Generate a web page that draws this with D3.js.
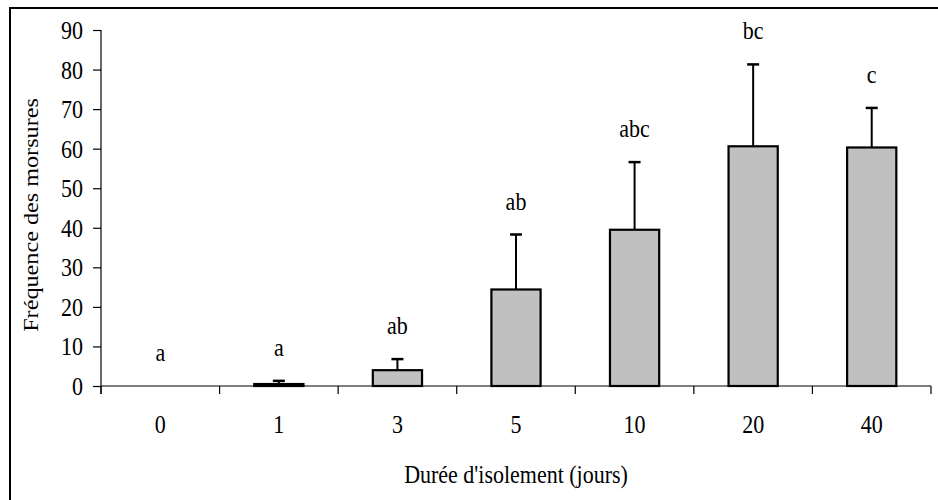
<!DOCTYPE html>
<html>
<head>
<meta charset="utf-8">
<script src="https://cdn.jsdelivr.net/npm/d3@7"></script>
<style>
  html, body { margin: 0; padding: 0; background: #fff; }
  svg { display: block; font-family: "Liberation Serif", "Times New Roman", serif; }
</style>
</head>
<body>
<svg id="chart" width="938" height="500"></svg>
<script>
// Isolation duration (days), mean bite frequency, standard error, significance letters
const durations = ["0", "1", "3", "5", "10", "20", "40"];
const means = [0, 0.5, 4, 24.4, 39.5, 60.6, 60.3];
const errors = [0, 0.8, 2.8, 13.9, 17.1, 20.7, 10.0];
const letters = ["a", "a", "ab", "ab", "abc", "bc", "c"];
const yTicks = [0, 10, 20, 30, 40, 50, 60, 70, 80, 90];

const svg = d3.select("#chart");
const margin = { left: 101, right: 7, top: 30, bottom: 114 };
const W = 938, H = 500;
const x0 = margin.left, x1 = W - margin.right;
const yBottom = H - margin.bottom, yTop = margin.top;
const FS = 22;       // text size
const STRETCH = 1.1; // slightly tall glyphs

// outer frame
svg.append("rect")
  .attr("x", 10).attr("y", 8)
  .attr("width", W + 20).attr("height", H + 20)
  .attr("fill", "none").attr("stroke", "#000").attr("stroke-width", 2);

const x = d3.scaleBand().domain(durations).range([x0, x1]).paddingInner(0).paddingOuter(0);
const y = d3.scaleLinear().domain([0, 90]).range([yBottom, yTop]);

const barW = x.bandwidth() * 0.415;

// text placed at (px, py) with a vertical stretch
function place(sel, px, py, anchor) {
  return sel.attr("transform", (d, i) => `translate(${px(d, i)},${py(d, i)}) scale(1,${STRETCH})`)
    .attr("text-anchor", anchor).attr("font-size", FS).attr("fill", "#000");
}

// y axis
const yAxis = svg.append("g")
  .attr("transform", `translate(${x0},0)`)
  .call(d3.axisLeft(y).tickValues(yTicks).tickSize(8).tickPadding(10).tickSizeOuter(0));
yAxis.select(".domain").attr("stroke", "#000").attr("stroke-width", 1.2)
  .attr("d", `M0,${yTop}V${yBottom + 8}`);
yAxis.selectAll(".tick line").attr("stroke", "#000").attr("stroke-width", 1.2);
yAxis.selectAll(".tick text").remove();
yAxis.selectAll(".tick").append("text")
  .call(place, () => -18, () => 8.5, "end")
  .attr("font-family", "Liberation Serif, Times New Roman, serif")
  .text(d => d);

// x axis with ticks at category boundaries
const xg = svg.append("g").attr("transform", `translate(0,${yBottom})`);
xg.append("line").attr("x1", x0).attr("x2", x1).attr("y1", 0).attr("y2", 0)
  .attr("stroke", "#000").attr("stroke-width", 1.2);
const bounds = durations.map(d => x(d)).concat([x1]);
xg.selectAll("line.sep").data(bounds).join("line").attr("class", "sep")
  .attr("x1", d => d).attr("x2", d => d).attr("y1", 0).attr("y2", 8)
  .attr("stroke", "#000").attr("stroke-width", 1.2);
xg.selectAll("text.cat").data(durations).join("text").attr("class", "cat")
  .call(place, d => x(d) + x.bandwidth() / 2, () => 47, "middle")
  .text(d => d);

// bars
const data = durations.map((d, i) => ({ d, m: means[i], e: errors[i], l: letters[i] }));
svg.selectAll("rect.bar").data(data.filter(o => o.m > 0)).join("rect").attr("class", "bar")
  .attr("x", o => x(o.d) + (x.bandwidth() - barW) / 2)
  .attr("y", o => y(o.m))
  .attr("width", barW)
  .attr("height", o => y(0) - y(o.m))
  .attr("fill", "#c0c0c0").attr("stroke", "#000").attr("stroke-width", 2.2);

// error bars (upper only)
const eb = svg.selectAll("g.err").data(data.filter(o => o.e > 0)).join("g").attr("class", "err");
eb.append("line")
  .attr("x1", o => x(o.d) + x.bandwidth() / 2).attr("x2", o => x(o.d) + x.bandwidth() / 2)
  .attr("y1", o => y(o.m)).attr("y2", o => y(o.m + o.e))
  .attr("stroke", "#000").attr("stroke-width", 2);
eb.append("line")
  .attr("x1", o => x(o.d) + x.bandwidth() / 2 - 6).attr("x2", o => x(o.d) + x.bandwidth() / 2 + 6)
  .attr("y1", o => y(o.m + o.e)).attr("y2", o => y(o.m + o.e))
  .attr("stroke", "#000").attr("stroke-width", 2.5);

// significance letters
svg.selectAll("text.sig").data(data).join("text").attr("class", "sig")
  .call(place, o => x(o.d) + x.bandwidth() / 2, o => y(o.m + o.e) - 25, "middle")
  .text(o => o.l);

// axis titles
svg.append("text")
  .attr("transform", `translate(38,215) scale(1,${STRETCH}) rotate(-90)`)
  .attr("text-anchor", "middle").attr("font-size", FS)
  .text("Fréquence des morsures");
svg.append("text")
  .attr("transform", `translate(${(x0 + x1) / 2},483) scale(1,${STRETCH})`)
  .attr("text-anchor", "middle").attr("font-size", FS)
  .text("Durée d'isolement (jours)");
</script>
</body>
</html>
